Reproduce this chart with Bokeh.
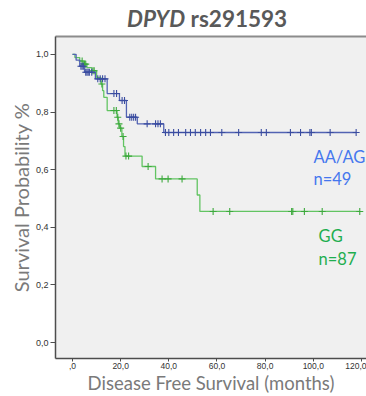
from bokeh.plotting import figure
from bokeh.layouts import column
from bokeh.models import Label, Range1d, FixedTicker, LinearAxis, Div
from bokeh.embed import file_html
from bokeh.resources import INLINE

# ---- data ----
month_ticks = [0, 20, 40, 60, 80, 100, 120]
month_tick_labels = [",0", "20,0", "40,0", "60,0", "80,0", "100,0", "120,0"]
surv_ticks = [0.0, 0.2, 0.4, 0.6, 0.8, 1.0]
surv_tick_labels = ["0,0", "0,2", "0,4", "0,6", "0,8", "1,0"]

# AA/AG (n=49): event times and survival after each event
aa_event_t = [1.5, 3.0, 5.0, 9.5, 14.4, 19.5, 22.4, 26.9, 37.9]
aa_event_s = [0.980, 0.959, 0.938, 0.915, 0.864, 0.840, 0.782, 0.759, 0.729]
aa_cens_t = [3.5, 4.0, 4.5, 5.5, 6.0, 6.5, 7.0, 8.0, 10.5, 11.5, 12.5, 13.5,
             17.2, 18.3, 20.6, 21.6, 23.8, 24.6, 25.4, 26.2, 31.0, 34.5, 35.5,
             36.5, 38.6, 40.0, 42.0, 44.0, 47.0, 49.0, 51.0, 53.2, 55.3, 57.3,
             62.0, 69.0, 78.4, 80.5, 90.5, 94.7, 98.6, 99.2, 107.0, 117.8]

# GG (n=87)
gg_event_t = [1.0, 3.0, 4.5, 6.0, 8.0, 10.0, 11.8, 12.5, 13.0, 14.4, 18.5,
              19.0, 19.5, 20.5, 21.2, 21.8, 28.9, 34.5, 51.8, 52.9]
gg_event_s = [0.989, 0.977, 0.966, 0.954, 0.943, 0.920, 0.897, 0.874, 0.851,
              0.805, 0.782, 0.759, 0.744, 0.715, 0.680, 0.647, 0.611, 0.568,
              0.512, 0.455]
gg_cens_t = [4.0, 5.0, 5.5, 8.5, 9.0, 12.2, 17.2, 18.2, 18.8, 19.3, 20.0,
             21.0, 22.2, 23.3, 31.4, 37.2, 39.7, 45.5, 58.4, 65.3, 91.0, 91.5,
             96.3, 103.7, 119.3]

AA_LINE = "#5263b3"
AA_MARK = "#3a4ca0"
GG_LINE = "#62c462"
GG_MARK = "#3da93d"
AA_TEXT = "#4577ee"
GG_TEXT = "#1fae4f"
GREY_TEXT = "#7a7a7a"


def surv_at(t, et, es):
    s = 1.0
    for e, v in zip(et, es):
        if e <= t:
            s = v
    return s


def curve(et, es, ct):
    end = max(ct + et)
    xs = [0.0] + list(et) + [end]
    ys = [1.0] + list(es) + [es[-1]]
    cy = [surv_at(t, et, es) for t in ct]
    return xs, ys, cy


title = Div(
    text='<div style="padding-top:6px;padding-left:127px;font-family:Lato;'
         'font-weight:bold;font-size:22.5px;color:#595959;white-space:nowrap;'
         'line-height:25px"><i>DPYD</i> rs291593</div>',
    width=366, height=30, margin=0)

p = figure(width=366, height=366, output_backend="svg", toolbar_location=None,
           x_range=Range1d(-7.06, 122.1), y_range=Range1d(-0.0552, 1.062),
           min_border_left=55, min_border_right=0, min_border_top=6,
           min_border_bottom=34, margin=0)
p.background_fill_color = "#f0f0f0"
p.border_fill_color = "white"
p.grid.visible = False
p.outline_line_color = None

# top frame line
top_ax = LinearAxis(ticker=FixedTicker(ticks=[]), axis_line_color="#8c8c8c",
                    axis_line_width=2, major_tick_line_color=None,
                    minor_tick_line_color=None, major_label_text_font_size="0px")
p.add_layout(top_ax, "above")

xax = p.below[0]
yax = p.left[0]
xax.ticker = FixedTicker(ticks=month_ticks, minor_ticks=[])
yax.ticker = FixedTicker(ticks=surv_ticks, minor_ticks=[])
xax.major_label_overrides = dict(zip(month_ticks, month_tick_labels))
yax.major_label_overrides = dict(zip(surv_ticks, surv_tick_labels))
for ax in (xax, yax):
    ax.axis_line_color = "#4d4d4d"
    ax.axis_line_width = 1.5
    ax.major_tick_line_color = "#4d4d4d"
    ax.major_tick_out = 5
    ax.major_tick_in = 0
    ax.major_label_text_font = "Liberation Sans"
    ax.major_label_text_font_size = "9px"
    ax.major_label_text_color = "#333333"
    ax.major_label_standoff = 2
    ax.axis_label_text_font = "Lato"
    ax.axis_label_text_font_style = "normal"
    ax.axis_label_text_color = GREY_TEXT
    ax.axis_label_standoff = 0
xax.axis_label = "Disease Free Survival (months)"
yax.axis_label = "Survival Probability %"
xax.axis_label_text_font_size = "18.5px"
yax.axis_label_text_font_size = "20px"
xax.major_tick_out = 3
xax.major_label_text_font_size = "8.5px"
xax.major_label_standoff = 1
xax.axis_label_standoff = 0

for et, es, ct, lc, mc in ((gg_event_t, gg_event_s, gg_cens_t, GG_LINE, GG_MARK),
                           (aa_event_t, aa_event_s, aa_cens_t, AA_LINE, AA_MARK)):
    xs, ys, cy = curve(et, es, ct)
    p.step(xs, ys, mode="after", line_color=lc, line_width=1.3)
    p.scatter(ct, cy, marker="cross", size=7, line_color=mc, line_width=1.1)

# group labels
for txt, x, y, col in (("AA/AG", 100.1, 0.645, AA_TEXT),
                       ("n=49", 100.1, 0.566, AA_TEXT),
                       ("GG", 102.2, 0.369, GG_TEXT),
                       ("n=87", 102.2, 0.290, GG_TEXT)):
    p.add_layout(Label(x=x, y=y, text=txt, text_color=col, text_font="Lato",
                       text_font_size="16.5px", text_baseline="alphabetic"))

open("out.html", "w").write(file_html(column(title, p, spacing=0), INLINE))
